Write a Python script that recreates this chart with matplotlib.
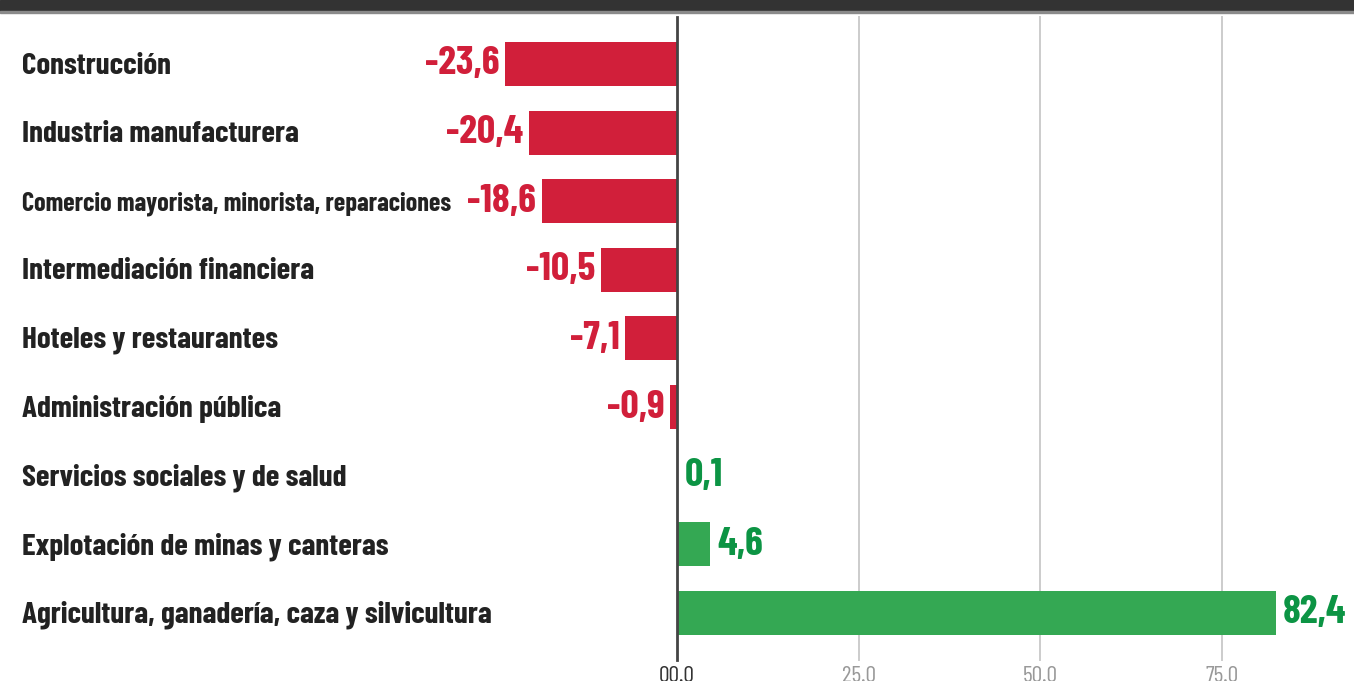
import matplotlib
matplotlib.use('Agg')
import matplotlib.pyplot as plt
from matplotlib.transforms import blended_transform_factory
from matplotlib.patches import Rectangle

sectores = ['Construcción', 'Industria manufacturera',
            'Comercio mayorista, minorista, reparaciones',
            'Intermediación financiera', 'Hoteles y restaurantes',
            'Administración pública', 'Servicios sociales y de salud',
            'Explotación de minas y canteras',
            'Agricultura, ganadería, caza y silvicultura']
valores = [-23.6, -20.4, -18.6, -10.5, -7.1, -0.9, 0.1, 4.6, 82.4]
ticks = [0, 25, 50, 75]
tick_labels = ['00.0', '25.0', '50.0', '75.0']

FONT = ['Barlow Condensed', 'Roboto Condensed', 'Asap Condensed', 'DejaVu Sans']
RED_BAR, RED_TXT = '#d11f3a', '#d11f3a'
GREEN_BAR, GREEN_TXT = '#34a853', '#0c9444'

W, H = 1354, 681
fig = plt.figure(figsize=(W / 100, H / 100), dpi=100)
ax = fig.add_axes([0, 0, 1, 1])
ax.axis('off')

# pixel -> data mapping: zero at x=677, 7.27 px per unit; rows 68.6 px apart from y=64
ppu = 7.27
ax.set_xlim(-677 / ppu, (W - 677) / ppu)
ax.set_ylim((H - 64) / 68.6, -64 / 68.6)
y_top, y_bot = (17 - 64) / 68.6, (660 - 64) / 68.6

# top band
fig.patches.append(Rectangle((0, 1 - 11 / H), 1, 11 / H, transform=fig.transFigure,
                             color='#333333', zorder=0))
fig.patches.append(Rectangle((0, 1 - 13 / H), 1, 2 / H, transform=fig.transFigure,
                             color='#8a8a8a', zorder=0))

# gridlines
for t in ticks[1:]:
    ax.plot([t, t], [y_top, y_bot], color='#cccccc', lw=1.4, zorder=1)
ax.plot([0, 0], [y_top, y_bot], color='#444444', lw=2, zorder=3)

ypos = list(range(len(sectores)))
colors = [RED_BAR if v < 0 else GREEN_BAR for v in valores]
ax.barh(ypos, valores, height=0.64, color=colors, zorder=2)

trans = blended_transform_factory(fig.transFigure, ax.transData)
for y, name, v in zip(ypos, sectores, valores):
    # the long "Comercio" label is squeezed in the original
    fs = 18.8 if name.startswith('Comercio') else 22.4
    ax.text(22 / W, y + 0.03, name, transform=trans, ha='left', va='center',
            fontsize=fs, fontweight='bold', family=FONT, color='#222222')
    lab = f'{v:.1f}'.replace('.', ',')
    if v < 0:
        ax.text(v - 0.8, y, lab, ha='right', va='center', fontsize=29,
                fontweight='bold', family=FONT, color=RED_TXT)
    else:
        ax.text(v + 0.9, y, lab, ha='left', va='center', fontsize=29,
                fontweight='bold', family=FONT, color=GREEN_TXT)

for t, lab in zip(ticks, tick_labels):
    ax.text(t, (676 - 64) / 68.6, lab, ha='center', va='center', fontsize=17,
            family=FONT, color='#333333' if t == 0 else '#999999')

fig.savefig('out.png', dpi=100)
